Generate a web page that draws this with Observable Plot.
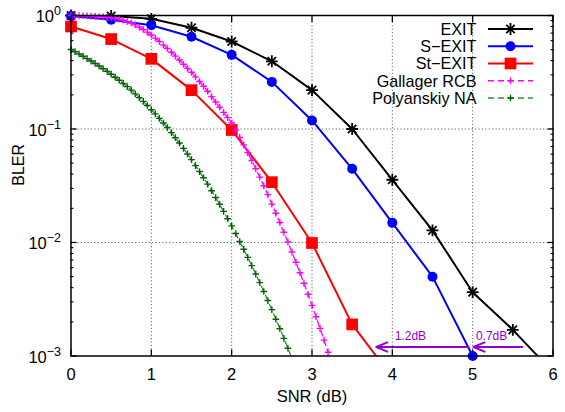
<!DOCTYPE html>
<html>
<head>
<meta charset="utf-8">
<script src="https://cdn.jsdelivr.net/npm/d3@7"></script>
<script src="https://cdn.jsdelivr.net/npm/@observablehq/plot@0.6"></script>
<style>
  html, body { margin: 0; padding: 0; background: #fff; }
  svg { display: block; }
</style>
</head>
<body>
<div id="chart"></div>
<script>
// ---------- data ----------
const seriesNames = ["EXIT", "S\u2212EXIT", "St\u2212EXIT", "Gallager RCB", "Polyanskiy NA"];
const xTicks = [0, 1, 2, 3, 4, 5, 6];
const xTickLabels = ["0", "1", "2", "3", "4", "5", "6"];
const xGrid = [1, 2, 3, 4, 5];
const yMajor = [1, 0.1, 0.01, 0.001];
const yGrid = [0.1, 0.01];
const yMinor = [0.9, 0.8, 0.7, 0.6, 0.5, 0.4, 0.3, 0.2,
                0.09, 0.08, 0.07, 0.06, 0.05, 0.04, 0.03, 0.02,
                0.009, 0.008, 0.007, 0.006, 0.005, 0.004, 0.003, 0.002];
const yTickLabels = ["10^0", "10^\u22121", "10^\u22122", "10^\u22123"];

const exitSnr  = [0, 0.5, 1, 1.5, 2, 2.5, 3, 3.5, 4, 4.5, 5, 5.5, 6];
const exitBler = [1.0, 0.99, 0.935, 0.78, 0.59, 0.395, 0.22, 0.100, 0.0357, 0.0128, 0.00365, 0.0017, 0.00072];

const sexitSnr  = [0, 0.5, 1, 1.5, 2, 2.5, 3, 3.5, 4, 4.5, 5];
const sexitBler = [0.99, 0.916, 0.82, 0.65, 0.45, 0.26, 0.119, 0.0446, 0.0149, 0.0050, 0.0010];

const stexitSnr  = [0, 0.5, 1, 1.5, 2, 2.5, 3, 3.5, 4];
const stexitBler = [0.80, 0.62, 0.415, 0.22, 0.098, 0.034, 0.0099, 0.0019, 0.00065];

const fineSnr = [0.00, 0.05, 0.10, 0.15, 0.20, 0.25, 0.30, 0.35, 0.40, 0.45,
                 0.50, 0.55, 0.60, 0.65, 0.70, 0.75, 0.80, 0.85, 0.90, 0.95,
                 1.00, 1.05, 1.10, 1.15, 1.20, 1.25, 1.30, 1.35, 1.40, 1.45,
                 1.50, 1.55, 1.60, 1.65, 1.70, 1.75, 1.80, 1.85, 1.90, 1.95,
                 2.00, 2.05, 2.10, 2.15, 2.20, 2.25, 2.30, 2.35, 2.40, 2.45,
                 2.50, 2.55, 2.60, 2.65, 2.70, 2.75, 2.80, 2.85, 2.90, 2.95,
                 3.00, 3.05, 3.10, 3.15, 3.20];

const gallagerBler = [1.000, 0.998, 0.997, 0.995, 0.993, 0.989, 0.984, 0.979, 0.973, 0.964,
                      0.955, 0.942, 0.927, 0.908, 0.885, 0.859, 0.826, 0.791, 0.753, 0.714,
                      0.673, 0.632, 0.592, 0.551, 0.512, 0.474, 0.439, 0.405, 0.372, 0.342,
                      0.316, 0.288, 0.262, 0.238, 0.215, 0.193, 0.173, 0.156, 0.140, 0.126,
                      0.113, 0.0977, 0.0843, 0.0724, 0.0619, 0.0527, 0.0447, 0.0377, 0.0316, 0.0264,
                      0.0218, 0.0181, 0.0150, 0.0123, 0.0101, 0.00824, 0.00670, 0.00542, 0.00437, 0.00350,
                      0.00279, 0.00222, 0.00175, 0.00138, 0.00108];

const polyanskiyBler = [0.501, 0.480, 0.458, 0.438, 0.417, 0.397, 0.378, 0.359, 0.340, 0.322,
                        0.304, 0.286, 0.269, 0.252, 0.236, 0.220, 0.204, 0.189, 0.175, 0.161,
                        0.148, 0.136, 0.124, 0.113, 0.103, 0.0929, 0.0838, 0.0753, 0.0675, 0.0603,
                        0.0537, 0.0476, 0.0422, 0.0372, 0.0327, 0.0286, 0.0249, 0.0217, 0.0188, 0.0162,
                        0.0140, 0.0120, 0.0102, 0.00871, 0.00740, 0.00625, 0.00527, 0.00443, 0.00370, 0.00308,
                        0.00256, 0.00211, 0.00174, 0.00143, 0.00117, 0.00095];

// gain annotations (arrows)
const arrowFrom  = [4.95, 5.62];
const arrowTo    = [3.80, 5.01];
const arrowBler  = [0.0012, 0.0012];
const arrowLabel = ["1.2dB", "0.7dB"];
const labelSnr   = [4.03, 5.04];
const labelBler  = [0.00149, 0.00149];

// ---------- build tables ----------
const zip = (xs, ys) => xs.map((x, i) => ({snr: x, bler: ys[i]}));
const exitData = zip(exitSnr, exitBler);
const sexitData = zip(sexitSnr, sexitBler);
const stexitData = zip(stexitSnr, stexitBler);
const gallagerData = zip(fineSnr.slice(0, gallagerBler.length), gallagerBler);
const polyData = zip(fineSnr.slice(0, polyanskiyBler.length), polyanskiyBler);
const inRange = d => d.bler >= 0.001 * 0.999;
const arrows = arrowFrom.map((f, i) => ({from: f, to: arrowTo[i], y: arrowBler[i],
  label: arrowLabel[i], lx: labelSnr[i], ly: labelBler[i]}));

const FONT = "'Liberation Sans', Arial, Helvetica, sans-serif";
const C = {exit: "#000000", sexit: "#0000ff", stexit: "#ff0000", gal: "#ff00ff", poly: "#006400", ann: "#9400d3"};

const plot = Plot.plot({
  width: 565,
  height: 412,
  marginLeft: 70.5,
  marginRight: 12.5,
  marginTop: 15,
  marginBottom: 56.5,
  x: {domain: [0, 6]},
  y: {type: "log", domain: [0.001, 1]},
  style: {fontFamily: FONT, fontSize: "16px", background: "#fff", overflow: "visible", color: "#000"},
  marks: [
    // grid
    Plot.gridX(xGrid, {stroke: "#666", strokeOpacity: 1, strokeWidth: 1, strokeDasharray: "1.2,2.2"}),
    Plot.gridY(yGrid, {stroke: "#666", strokeOpacity: 1, strokeWidth: 1, strokeDasharray: "1.2,2.2"}),

    // inward ticks
    Plot.axisX({anchor: "bottom", ticks: xTicks, tickSize: 6, dy: -6, tickFormat: () => "", label: null, strokeWidth: 1.3}),
    Plot.axisX({anchor: "top", ticks: xTicks, tickSize: 6, dy: 6, tickFormat: () => "", label: null, strokeWidth: 1.3}),
    Plot.axisY({anchor: "left", ticks: yMajor, tickSize: 6, dx: 6, tickFormat: () => "", label: null, strokeWidth: 1.3}),
    Plot.axisY({anchor: "left", ticks: yMinor, tickSize: 3, dx: 3, tickFormat: () => "", label: null, strokeWidth: 1.1}),
    Plot.axisY({anchor: "right", ticks: yMajor, tickSize: 6, dx: -6, tickFormat: () => "", label: null, strokeWidth: 1.3}),
    Plot.axisY({anchor: "right", ticks: yMinor, tickSize: 3, dx: -3, tickFormat: () => "", label: null, strokeWidth: 1.1}),

    // tick labels
    Plot.axisX({anchor: "bottom", ticks: xTicks, tickSize: 0, tickPadding: 12, fontSize: 16.5,
                tickFormat: d => xTickLabels[xTicks.indexOf(d)], label: null}),
    Plot.axisY({anchor: "left", ticks: yMajor, tickSize: 0, tickPadding: 10, fontSize: 16.5, dy: 1.5,
                tickFormat: d => yTickLabels[yMajor.indexOf(d)], label: null}),

    // axis titles
    Plot.text(["SNR (dB)"], {frameAnchor: "bottom", dy: 41, text: d => d, fontSize: 16.5, lineAnchor: "middle"}),
    Plot.text(["BLER"], {frameAnchor: "left", dx: -52, text: d => d, fontSize: 16, rotate: -90, lineAnchor: "middle"}),

    // EXIT
    Plot.line(exitData, {x: "snr", y: "bler", stroke: C.exit, strokeWidth: 2, clip: true}),
    Plot.dot(exitData.filter(inRange), {x: "snr", y: "bler", symbol: "plus", r: 3.9, stroke: C.exit, strokeWidth: 1.8}),
    Plot.dot(exitData.filter(inRange), {x: "snr", y: "bler", symbol: "times", r: 3.9, stroke: C.exit, strokeWidth: 1.8}),

    // S-EXIT
    Plot.line(sexitData, {x: "snr", y: "bler", stroke: C.sexit, strokeWidth: 2, clip: true}),
    Plot.dot(sexitData.filter(inRange), {x: "snr", y: "bler", symbol: "circle", r: 5, fill: C.sexit, stroke: "none"}),

    // St-EXIT
    Plot.line(stexitData, {x: "snr", y: "bler", stroke: C.stexit, strokeWidth: 2, clip: true}),
    Plot.dot(stexitData.filter(inRange), {x: "snr", y: "bler", symbol: "square", r: 6.6, fill: C.stexit, stroke: "none"}),

    // Gallager RCB
    Plot.line(gallagerData, {x: "snr", y: "bler", stroke: C.gal, strokeWidth: 1.3, strokeDasharray: "6,4", clip: true}),
    Plot.dot(gallagerData.filter(inRange), {x: "snr", y: "bler", symbol: "plus", r: 2.3, stroke: C.gal, strokeWidth: 1.4}),

    // Polyanskiy NA
    Plot.line(polyData, {x: "snr", y: "bler", stroke: "#3a8a3a", strokeWidth: 1.3, strokeDasharray: "6,4", clip: true}),
    Plot.dot(polyData.filter(inRange), {x: "snr", y: "bler", symbol: "plus", r: 2.3, stroke: C.poly, strokeWidth: 1.4}),

    // annotations
    Plot.arrow(arrows, {x1: "from", x2: "to", y1: "y", y2: "y", stroke: C.ann, strokeWidth: 2, headLength: 9, headAngle: 45}),
    Plot.text(arrows, {x: "lx", y: "ly", text: "label", textAnchor: "start", fill: C.ann, fontSize: 12}),

    // border
    Plot.frame({stroke: "#000", strokeWidth: 1.5})
  ]
});

// superscript tick labels
d3.select(plot).selectAll("text").each(function () {
  const t = this.textContent;
  const m = /^10\^(.+)$/.exec(t);
  if (!m) return;
  const sel = d3.select(this);
  sel.text("");
  sel.append("tspan").text("10");
  sel.append("tspan").attr("dy", "-0.55em").attr("font-size", "12.5px").text(m[1]);
});

// legend
const legendItems = [
  {name: seriesNames[0], color: C.exit, width: 2, dash: null, sym: "star"},
  {name: seriesNames[1], color: C.sexit, width: 2, dash: null, sym: "circle"},
  {name: seriesNames[2], color: C.stexit, width: 2, dash: null, sym: "square"},
  {name: seriesNames[3], color: C.gal, width: 1.3, dash: "6,4", sym: "plus"},
  {name: seriesNames[4], color: "#3a8a3a", width: 1.3, dash: "6,4", sym: "plus", symColor: C.poly}
];
const lg = d3.select(plot).append("g").attr("font-family", FONT).attr("font-size", "16.2px");
legendItems.forEach((s, i) => {
  const y = 29 + i * 17.25;
  lg.append("text").attr("x", 476.5).attr("y", y).attr("dy", "0.36em").attr("text-anchor", "end").attr("fill", "#000").text(s.name);
  lg.append("line").attr("x1", 488).attr("x2", 533).attr("y1", y).attr("y2", y)
    .attr("stroke", s.color).attr("stroke-width", s.width).attr("stroke-dasharray", s.dash);
  const g = lg.append("g").attr("transform", `translate(510.5,${y})`);
  if (s.sym === "star") {
    g.append("path").attr("d", d3.symbol(d3.symbolPlus, Math.PI * 3.9 * 3.9)()).attr("stroke", s.color).attr("stroke-width", 1.8).attr("fill", "none");
    g.append("path").attr("d", d3.symbol(d3.symbolTimes, Math.PI * 3.9 * 3.9)()).attr("stroke", s.color).attr("stroke-width", 1.8).attr("fill", "none");
  } else if (s.sym === "circle") {
    g.append("circle").attr("r", 5).attr("fill", s.color);
  } else if (s.sym === "square") {
    g.append("path").attr("d", d3.symbol(d3.symbolSquare, Math.PI * 6.6 * 6.6)()).attr("fill", s.color);
  } else {
    g.append("path").attr("d", d3.symbol(d3.symbolPlus, Math.PI * 2.3 * 2.3)()).attr("stroke", s.symColor || s.color).attr("stroke-width", 1.4).attr("fill", "none");
  }
});

document.getElementById("chart").appendChild(plot);
</script>
</body>
</html>
